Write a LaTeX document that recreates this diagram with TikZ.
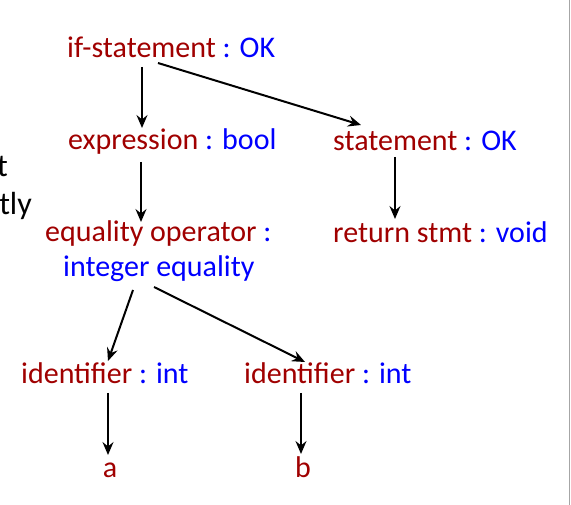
\documentclass[tikz,border=0pt]{standalone}
\usepackage{fontspec}
\setmainfont{Carlito}
\usetikzlibrary{arrows.meta,calc}
\definecolor{tred}{HTML}{A00000}
\definecolor{tblue}{HTML}{0000FF}
\begin{document}
\begin{tikzpicture}[x=1pt,y=-1pt,
  lbl/.style={inner sep=0pt,anchor=base west,font=\fontsize{30}{36}\selectfont,text=tred},
  leaf/.style={inner sep=0pt,anchor=base,font=\fontsize{30}{36}\selectfont,text=tred},
  side/.style={inner sep=0pt,anchor=base east,font=\fontsize{32}{38}\selectfont,text=black},
  arr/.style={line width=2pt,-{Stealth[length=13pt,width=11pt,inset=4.5pt]}}]
\useasboundingbox (0,0) rectangle (571,505);
\fill[white] (0,0) rectangle (571,505);
\draw[gray!70,line width=1pt] (569,0) -- (569,505);
\node[side] (c1) at (8,177) {t};
\node[side] (c2) at (32,215) {tly};
\node[lbl] (ifs) at (67,58) {if-statement\ \textcolor{tblue}{: OK}};
\node[lbl] (expr) at (68,150) {expression\ \textcolor{tblue}{: bool}};
\node[lbl] (stmt) at (333,151) {statement\ \textcolor{tblue}{: OK}};
\node[lbl] (eq) at (45,242) {equality operator\ \textcolor{tblue}{:}};
\node[lbl,text=tblue] (ieq) at (63,277) {integer equality};
\node[lbl] (ret) at (333,243) {return stmt\ \textcolor{tblue}{: void}};
\node[lbl] (id1) at (21,384) {identifier\ \textcolor{tblue}{: int}};
\node[lbl] (id2) at (244,384) {identifier\ \textcolor{tblue}{: int}};
\node[leaf] (a) at (110,477) {a};
\node[leaf] (b) at (303,477) {b};
\draw[arr] ($(ifs.base west)+(75,9)$) -- ($(expr.base west)+(74,-22)$);
\draw[arr] ($(ifs.base west)+(91,5)$) -- ($(stmt.base west)+(28,-26)$);
\draw[arr] ($(expr.base west)+(73,12)$) -- ($(eq.base west)+(96,-20)$);
\draw[arr] ($(stmt.base west)+(62,6)$) -- ($(ret.base west)+(62,-24)$);
\draw[arr] ($(ieq.base west)+(70,13)$) -- ($(id1.base west)+(87,-23)$);
\draw[arr] ($(ieq.base west)+(91,10)$) -- ($(id2.base west)+(61,-22)$);
\draw[arr] ($(id1.base west)+(87,9)$) -- ($(a.base)+(-2,-22)$);
\draw[arr] ($(id2.base west)+(57,9)$) -- ($(b.base)+(-2,-23)$);
\end{tikzpicture}
\end{document}
